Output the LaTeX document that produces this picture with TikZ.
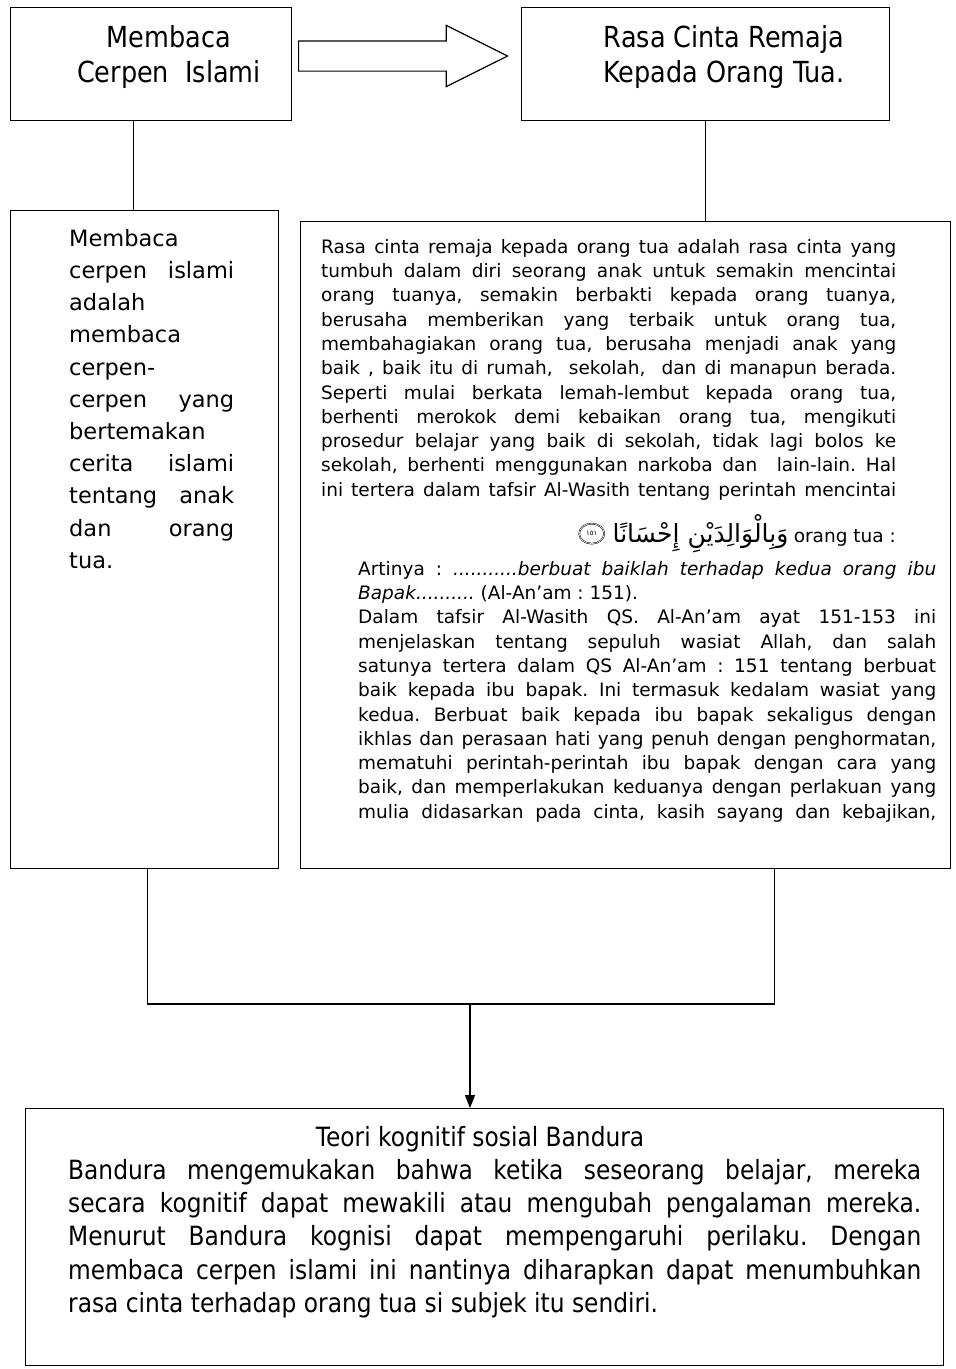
\documentclass[tikz,border=0pt]{standalone}
\usepackage{fontspec}
\setmainfont{DejaVu Sans}
\newfontfamily\condfont[FakeStretch=0.88]{DejaVu Sans}
\newfontfamily\arabicfont[Script=Arabic]{DejaVu Sans}
\TeXXeTstate=1
\usepackage{tikz}
\usetikzlibrary{positioning,shapes.arrows,shapes.geometric,arrows.meta}
\frenchspacing

\begin{document}
\begin{tikzpicture}[x=1pt,y=-1pt]
        \tikzstyle{frame}=[draw=black, line width=1.4pt, inner sep=0pt, anchor=north west]
        \tikzstyle{headtext}=[font=\condfont\fontsize{29}{35}\selectfont, align=center, inner sep=0pt]
        \tikzstyle{bodytext}=[anchor=north west, inner sep=0pt, align=justify,
            execute at begin node={\tolerance=10000\hyphenpenalty=10000\exhyphenpenalty=10000}]
        \tikzstyle{link}=[line width=1.2pt]
        \useasboundingbox (0,0) rectangle (956,1369);

        % Boxes
        \node[frame, minimum width=281pt, minimum height=113pt] (A) at (10,7) {};
        \node[frame, minimum width=368pt, minimum height=113pt] (B) at (521,7) {};
        \node[frame, minimum width=268pt, minimum height=658pt] (C) at (10,210) {};
        \node[frame, minimum width=650pt, minimum height=647pt] (D) at (300,221) {};
        \node[frame, minimum width=918pt, minimum height=257pt] (E) at (25,1108) {};

        % Titles
        \node[headtext] (Atxt) at (169,57) {Membaca\\Cerpen\ \ Islami};
        \node[headtext] (Btxt) at (724,57) {Rasa Cinta Remaja\\Kepada Orang Tua.};

        % Hollow arrow
        \node[single arrow, draw=black, line width=1.2pt, inner xsep=0pt, inner ysep=14.5pt,
              minimum width=60pt, minimum height=209pt,
              single arrow head extend=15.5pt, single arrow tip angle=53,
              anchor=tail] (hollow) at (298,56) {};

        % Texts
        \node[bodytext, text width=165pt, font=\fontsize{22.5}{32.2}\selectfont] (Ctxt) at (69,229)
            {Membaca\linebreak cerpen islami\linebreak adalah\linebreak membaca\linebreak cerpen-\linebreak
             cerpen yang\linebreak bertemakan\linebreak cerita islami\linebreak tentang anak\linebreak
             dan orang\linebreak tua.};

        \node[bodytext, text width=575pt, font=\fontsize{18.5}{24.3}\selectfont] (Dtxt) at (321,239)
            {Rasa cinta remaja kepada orang tua adalah rasa cinta yang\linebreak
             tumbuh dalam diri seorang anak untuk semakin mencintai\linebreak
             orang tuanya, semakin berbakti kepada orang tuanya,\linebreak
             berusaha memberikan yang terbaik untuk orang tua,\linebreak
             membahagiakan orang tua, berusaha menjadi anak yang\linebreak
             baik , baik itu di rumah,\ \ sekolah,\ \ dan di manapun berada.\linebreak
             Seperti mulai berkata lemah-lembut kepada orang tua,\linebreak
             berhenti merokok demi kebaikan orang tua, mengikuti\linebreak
             prosedur belajar yang baik di sekolah, tidak lagi bolos ke\linebreak
             sekolah, berhenti menggunakan narkoba dan\ \ lain-lain. Hal\linebreak
             ini tertera dalam tafsir Al-Wasith tentang perintah mencintai{\parfillskip=0pt\par}};

        \node[anchor=base east, inner sep=0pt, font=\fontsize{18.5}{24.3}\selectfont] (ortu) at (896,542) {orang tua :};
        \node[anchor=base east, inner sep=0pt, font=\arabicfont\fontsize{25}{28}\selectfont] (ayat)
            at ([xshift=-5pt]ortu.base west) {\beginR وَبِالْوَالِدَيْنِ إِحْسَانًا\endR};
        \node[draw=black, double, line width=0.5pt, ellipse, minimum width=25pt, minimum height=20pt, inner sep=0pt,
              font=\arabicfont\fontsize{7}{8}\selectfont, left=8pt of ayat] (nomor) {١٥١};

        \node[bodytext, text width=578pt, font=\fontsize{18.5}{24.3}\selectfont] (Dtxt2) at (358,561)
            {Artinya : \textit{...........berbuat baiklah terhadap kedua orang ibu}\linebreak
             \textit{Bapak..........} (Al-An’am : 151).\par
             Dalam tafsir Al-Wasith QS. Al-An’am ayat 151-153 ini\linebreak
             menjelaskan tentang sepuluh wasiat Allah, dan salah\linebreak
             satunya tertera dalam QS Al-An’am : 151 tentang berbuat\linebreak
             baik kepada ibu bapak. Ini termasuk kedalam wasiat yang\linebreak
             kedua. Berbuat baik kepada ibu bapak sekaligus dengan\linebreak
             ikhlas dan perasaan hati yang penuh dengan penghormatan,\linebreak
             mematuhi perintah-perintah ibu bapak dengan cara yang\linebreak
             baik, dan memperlakukan keduanya dengan perlakuan yang\linebreak
             mulia didasarkan pada cinta, kasih sayang dan kebajikan,{\parfillskip=0pt\par}};

        \node[anchor=base, inner sep=0pt, font=\condfont\fontsize{26.5}{33.3}\selectfont] (Etitle) at (480,1146)
            {Teori kognitif sosial Bandura};
        \node[bodytext, text width=853pt, font=\condfont\fontsize{26.5}{33.3}\selectfont] (Etxt) at (68,1159)
            {Bandura mengemukakan bahwa ketika seseorang belajar, mereka\linebreak
             secara kognitif dapat mewakili atau mengubah pengalaman mereka.\linebreak
             Menurut Bandura kognisi dapat mempengaruhi perilaku. Dengan\linebreak
             membaca cerpen islami ini nantinya diharapkan dapat menumbuhkan\linebreak
             rasa cinta terhadap orang tua si subjek itu sendiri.};

        % Edges
        \coordinate (join) at (470,1004);
        \draw[link] ([xshift=-17.5pt]A.south) -- ([xshift=-11pt]C.north);
        \draw[link] (B.south) -- (B.south |- D.north);
        \draw[link] ([xshift=3pt]C.south) -- ([xshift=3pt]C.south |- join)
                    -- ([xshift=149pt]D.south |- join) -- ([xshift=149pt]D.south);
        \draw[link, -{Triangle[length=13pt,width=10pt]}] (join) -- (join |- E.north);
\end{tikzpicture}
\end{document}
